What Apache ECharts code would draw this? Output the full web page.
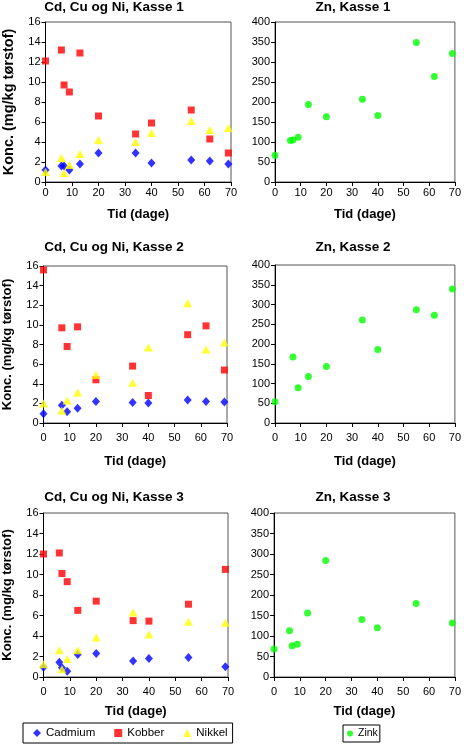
<!DOCTYPE html>
<html>
<head>
    <meta charset="utf-8">
    <script src="https://cdn.jsdelivr.net/npm/echarts@6/dist/echarts.min.js"></script>
    <style>
        html, body { margin: 0; padding: 0; background: #fff; }
    </style>
</head>
<body>
    <div id="main" style="width:464px; height:746px;"></div>
</body>

<script type="text/javascript">
    // days of sampling per box
    const days1 = [0, 6, 7, 9, 13, 20, 34, 40, 55, 62, 69];
    const days2 = [0, 7, 9, 13, 20, 34, 40, 55, 62, 69];
    const days3 = [0, 6, 7, 9, 13, 20, 34, 40, 55, 69];

    // Kasse 1
    const cd1 = [1.2, 1.6, 1.6, 1.2, 1.8, 2.9, 2.9, 1.9, 2.2, 2.1, 1.8];
    const cu1 = [12.1, 13.2, 9.7, 9.0, 12.9, 6.6, 4.8, 5.9, 7.2, 4.3, 2.9];
    const ni1 = [1.0, 2.4, 0.9, 1.7, 2.8, 4.2, 4.0, 4.9, 6.1, 5.2, 5.4];
    const zn1 = [67, 104, 105, 112, 194, 163, 207, 166, 349, 264, 321];

    // Kasse 2
    const cd2 = [0.95, 1.8, 1.15, 1.5, 2.2, 2.1, 2.05, 2.35, 2.2, 2.15];
    const cu2 = [15.6, 9.7, 7.8, 9.8, 4.4, 5.8, 2.8, 9.0, 9.9, 5.4];
    const ni2 = [2.0, 1.25, 2.3, 3.1, 4.9, 4.1, 7.7, 12.2, 7.5, 8.2];
    const zn2 = [54, 167, 89, 118, 143, 261, 186, 287, 273, 339];

    // Kasse 3
    const cd3 = [0.95, 1.45, 0.9, 0.55, 2.2, 2.3, 1.55, 1.8, 1.9, 1.0];
    const cu3 = [12.0, 12.1, 10.1, 9.3, 6.5, 7.4, 5.5, 5.45, 7.1, 10.5];
    const ni3 = [1.25, 2.6, 0.75, 1.75, 2.6, 3.85, 6.3, 4.15, 5.4, 5.3];
    const zn3 = [68, 113, 76, 80, 156, 284, 140, 120, 179, 132];

    const metalTitles = ['Cd, Cu og Ni, Kasse 1', 'Cd, Cu og Ni, Kasse 2', 'Cd, Cu og Ni, Kasse 3'];
    const zincTitles = ['Zn, Kasse 1', 'Zn, Kasse 2', 'Zn, Kasse 3'];
    const xName = 'Tid (dage)';
    const yName = 'Konc. (mg/kg tørstof)';

    const FONT = '"Liberation Sans", Arial, sans-serif';

    const myChart = echarts.init(document.getElementById('main'), null, { renderer: 'canvas' });

    const pair = (xs, ys) => xs.map((x, i) => [x, ys[i]]);

    // grid boxes [left, top, right, bottom] in px
    const boxes = [
        [44, 22, 231, 182], [275, 22, 458, 182],
        [43, 266, 227, 423], [275, 265, 458, 423],
        [41, 513, 228, 677], [274, 513, 456, 677]
    ];
    // per row tweaks (the original panels are not quite identical)
    const titleTop = [0, 240, 490];
    const xLabelMargin = [5, 9, 9];
    const xNameGap = [26, 32, 28];
    const yNameSize = [14.5, 13, 13];

    const grids = boxes.map(b => ({
        left: b[0], top: b[1], width: b[2] - b[0], height: b[3] - b[1],
        show: true, borderColor: '#555', borderWidth: 1, backgroundColor: '#fff'
    }));

    const axisCommon = {
        axisLine: { show: true, onZero: false, lineStyle: { color: '#000', width: 1 } },
        axisTick: { show: true, inside: false, length: 4, lineStyle: { color: '#000' } },
        splitLine: { show: false }
    };
    const labelStyle = { color: '#000', fontSize: 11, fontFamily: FONT };

    const xAxes = grids.map((g, i) => {
        const r = Math.floor(i / 2);
        return Object.assign({}, axisCommon, {
            type: 'value', gridIndex: i, min: 0, max: 70, interval: 10,
            name: xName, nameLocation: 'middle', nameGap: xNameGap[r],
            nameTextStyle: { color: '#000', fontSize: 13, fontWeight: 'bold', fontFamily: FONT },
            axisLabel: Object.assign({ margin: xLabelMargin[r] }, labelStyle)
        });
    });

    const yAxes = grids.map((g, i) => {
        const r = Math.floor(i / 2);
        const zinc = i % 2 === 1;
        return Object.assign({}, axisCommon, {
            type: 'value', gridIndex: i, min: 0,
            max: zinc ? 400 : 16, interval: zinc ? 50 : 2,
            name: zinc ? '' : yName, nameLocation: 'middle', nameGap: 29.5,
            nameTextStyle: { color: '#000', fontSize: yNameSize[r], fontWeight: 'bold', fontFamily: FONT },
            axisLabel: Object.assign({ margin: 5 }, labelStyle)
        });
    });

    const titleStyle = { fontSize: 13.5, fontWeight: 'bold', fontFamily: FONT, color: '#000' };
    const titles = [];
    for (let r = 0; r < 3; r++) {
        titles.push({ text: metalTitles[r], left: 114, top: titleTop[r], textAlign: 'center', padding: 0, textStyle: titleStyle });
        titles.push({ text: zincTitles[r], left: 353, top: titleTop[r], textAlign: 'center', padding: 0, textStyle: titleStyle });
    }

    const metals = [
        [days1, cd1, cu1, ni1, zn1],
        [days2, cd2, cu2, ni2, zn2],
        [days3, cd3, cu3, ni3, zn3]
    ];

    const series = [];
    metals.forEach((m, r) => {
        const [d, cd, cu, ni, zn] = m;
        const gi = r * 2;
        series.push({ name: 'Cadmium', type: 'scatter', xAxisIndex: gi, yAxisIndex: gi,
            symbol: 'diamond', symbolSize: [8, 9], itemStyle: { color: '#0000ff' }, data: pair(d, cd) });
        series.push({ name: 'Kobber', type: 'scatter', xAxisIndex: gi, yAxisIndex: gi,
            symbol: 'rect', symbolSize: 7, itemStyle: { color: '#ff0000' }, data: pair(d, cu) });
        series.push({ name: 'Nikkel', type: 'scatter', xAxisIndex: gi, yAxisIndex: gi,
            symbol: 'triangle', symbolSize: [9, 8], itemStyle: { color: '#ffff00' }, data: pair(d, ni) });
        series.push({ name: 'Zink', type: 'scatter', xAxisIndex: gi + 1, yAxisIndex: gi + 1,
            symbol: 'circle', symbolSize: 7, itemStyle: { color: '#00ff00' }, data: pair(d, zn) });
    });

    let option = {
        animation: false,
        backgroundColor: '#fff',
        title: titles,
        grid: grids,
        xAxis: xAxes,
        yAxis: yAxes,
        legend: [
            {
                data: ['Cadmium', 'Kobber', 'Nikkel'],
                left: 23, top: 723,
                borderColor: '#000', borderWidth: 1, padding: [4, 5, 4, 10],
                itemWidth: 8, itemHeight: 8, itemGap: 19,
                textStyle: { color: '#000', fontSize: 11.5, fontFamily: FONT }
            },
            {
                data: ['Zink'],
                left: 343, top: 725,
                borderColor: '#000', borderWidth: 1, padding: [3, 2, 3, 4],
                itemWidth: 6, itemHeight: 6, itemGap: 4,
                textStyle: { color: '#000', fontSize: 10.5, fontFamily: FONT }
            }
        ],
        series: series
    };
    option && myChart.setOption(option);
</script>
</html>
